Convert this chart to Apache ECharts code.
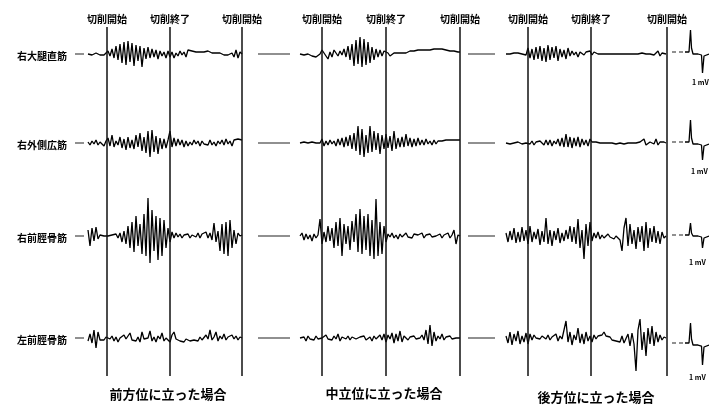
<!DOCTYPE html>
<html><head><meta charset="utf-8">
<script src="https://cdn.jsdelivr.net/npm/echarts@6/dist/echarts.min.js"></script>
<style>html,body{margin:0;padding:0;background:#fff}#c{width:709px;height:408px}</style>
</head><body><div id="c"></div>
<script>
// ---------- data ----------
const rowNames = ['右大腿直筋','右外側広筋','右前脛骨筋','左前脛骨筋'];
const panelNames = ['前方位に立った場合','中立位に立った場合','後方位に立った場合'];
const markerNames = ['切削開始','切削終了','切削開始'];
// marker positions in sample index for each panel
const markers1 = [9.5, 41, 77];
const markers2 = [11, 43, 80];
const markers3 = [11, 42.5, 80.5];
// lead-in baseline segments (sample index range)
const lead1 = [-6.5, -2];
const lead2 = [-21, -5];
const lead3 = [-19, -5.5];
const calUnit = '1 mV';

// Panel 1 (前方位)
const p1r1 = [0,1,-1,0,1,0,-1,-2,-1,1, 3,-2,5,-4,8,-6,10,-9,12,-11,13, -8,11,-12,9,-7,8,-13,6,-5,7, -4,5,-3,4,-5,3,-2,2,-4,3, -3,2,-4,1,-2,3,-1,2,-3,4, 2,3,1,2,3,2,3,2,2,3, 2,1,2,1,0,1,0,-1,0,-1, 0,1,-3,4,-4,2,0];
const p1r2 = [1,-2,2,-1,3,-2,1,2,-3,2, 5,-3,8,-4,2,-2,6,-5,4,-7,6, -5,3,-6,8,-4,10,-8,6,-10,12, -14,13,-9,7,-11,5,-6,4,-5,3, 12,-4,5,-3,4,-2,3,-4,2,-3, 1,-2,3,-1,2,-3,2,-1,1,-2, 3,-2,1,-3,2,-1,3,-2,4,-1, 2,-3,3,1,4,2,3];
const p1r3 = [6,-10,8,-5,9,-3,1,-1,0,1, 0,-1,1,0,2,-2,3,-6,5,-8,10, -12,14,-16,20,-10,12,-18,22,-20,38, -27,26,-15,20,-24,18,-20,16,-12,8, -6,4,-2,3,-1,2,-2,1,-1,2, -2,1,2,-1,3,-2,2,0,4,-2, 3,-4,13,-6,5,-15,12,-18,14,-20, 16,-12,6,-8,3,0,1];
const p1r4 = [-3,4,-5,8,-10,6,-2,0,-2,1, 0,-1,2,-3,1,-4,0,-2,3,-1,0, 5,-2,0,-3,1,-4,6,-1,-2,0, 7,-3,1,-4,2,-1,5,-3,0,2, -4,3,6,-1,0,-3,-2,-4,-1,-2, -3,-1,-2,0,-3,1,-2,0,3,-1, 8,-2,1,6,-3,2,-1,4,-2,1, 0,3,-1,2,-2,1,0];

// Panel 2 (中立位)
const p2r1 = [0,1,-1,-2,0,-1,-2,-1,-3,-1,0, 4,6,-2,-5,2,-3,4,1,-2,3, -1,5,-3,8,-6,10,-12,14,-10,17, -13,15,-11,12,-9,7,-6,5,-3,4, -2,3,4,1,-2,0,1,0,1,0, 1,2,1,2,3,2,3,3,4,3, 4,5,4,5,4,6,5,4,5,4, 5,4,4,3,3,2,3,2,2,2];
const p2r2 = [0,-2,1,-1,0,-1,1,-1,0,-1,0, 4,-3,2,-2,3,-1,2,-3,4,-2, 5,-4,6,-3,8,-6,10,-8,17,-12, 14,-14,8,-10,17,-9,12,-7,10,-11, 8,-6,9,-5,7,-8,12,-6,5,-4, 6,-4,9,-3,5,-4,4,-3,5,-2, 3,-2,4,-1,2,-2,3,-1,2,1, 2,3,3,3,3,3,3,3,3,3];
const p2r3 = [0,3,-4,2,-3,1,-5,2,-2,1,17, -8,4,-6,10,-5,8,-12,14,-10,18, -20,12,-8,10,-14,15,-6,22,-16,27, -18,20,-14,22,-20,16,-23,37,-20,14, -18,10,-6,2,-1,3,-2,1,-3,2, -1,0,3,-1,1,-2,2,0,1,-1, 3,-2,1,0,2,-1,1,0,-1,2, -2,1,0,3,-2,1,6,-8,1,0];
const p2r4 = [0,-2,1,-3,2,-1,0,-2,2,-1,1, 0,-2,3,-1,1,-2,2,-1,4,-3, 1,0,-1,2,-2,1,0,-1,0,1, -1,2,-2,0,1,-3,2,-1,0,3, -2,4,-4,3,-1,5,-5,4,-3,7, -4,2,3,-2,1,0,2,-1,1,0, 3,-2,8,-6,13,-8,6,-3,2,-1, 4,-2,1,0,2,-1,1,0,1,0];

// Panel 3 (後方位)
const p3r1 = [0,1,0,-1,1,0,1,-1,0,1,-1, 6,-4,5,-6,7,-5,8,-7,6,-8, 9,-6,7,-4,8,-7,5,-3,4,-5, 6,-2,3,-1,2,-3,2,1,-1,2, 0,3,-1,2,1,0,2,0,1,0, 0,0,-1,0,0,0,0,0,-1,0, 0,0,-1,0,1,0,0,1,0,0, 1,0,2,-1,1,3,-2,1,0,0];
const p3r2 = [0,1,-1,1,0,-1,1,0,-1,1,0, 2,-1,2,-2,1,-1,2,0,-2,3, -2,3,-3,2,-1,4,-3,5,-4,9, -4,6,-5,5,-3,6,-4,4,-2,3, -3,4,1,0,1,-1,0,1,0,-1, 0,-1,0,0,-1,-1,0,0,-1,1, 0,1,0,-1,0,-1,1,0,4,-2, 0,1,0,-1,4,-2,1,0,1,0];
const p3r3 = [3,-6,5,-4,8,-7,4,-6,9,-5,6, -8,10,-6,4,-3,7,-9,5,-6,18, -8,6,-10,5,-4,8,-7,3,-5,6, -3,10,-6,9,-8,17,-12,6,-23,12, -10,14,-5,3,-2,4,-3,1,-2,0, 2,-1,1,-3,0,2,-4,-15,8,18, -10,12,-8,6,-13,9,-6,10,-15,14, -12,8,-6,10,-7,5,-8,4,-2,0];
const p3r4 = [2,-5,6,-7,4,-3,7,-6,2,-4,5, -6,4,-2,3,0,1,-1,2,0,-1, 3,-2,1,0,4,-3,2,-1,8,17, -4,6,-7,3,-2,10,-5,4,-6,6, -3,2,-4,3,-1,2,1,3,6,2, 0,1,-2,0,-3,-1,-4,2,-5,-3, 4,-8,5,-6,-33,8,19,-12,6,-18, 10,-6,12,-8,6,-4,3,-2,1,0];

// Calibration pulses (1 mV)
const calX  = [13, 17, 18.5, 19.5, 21, 26, 29.5, 30.5, 32, 37];
const calR1 = [0, 0, 22, 4, -2, -2, -3, -21, -4, -2];
const calR2 = [0, 0, 22, 4, -2, -2, -3, -18, -4, -2];
const calR3 = [0, 0, 12, 2, -1, -1, -2, -13, -3, -1];
const calR4 = [0, 0, 20, 4, -2, -2, -3, -22, -4, -2];
const calDash = [0, 13];

// ---------- layout ----------
const FONT = '"Noto Sans CJK JP","Noto Sans CJK SC",sans-serif';
const traces = [[p1r1,p1r2,p1r3,p1r4],[p2r1,p2r2,p2r3,p2r4],[p3r1,p3r2,p3r3,p3r4]];
const markers = [markers1, markers2, markers3];
const leads = [lead1, lead2, lead3];
const cals = [calR1, calR2, calR3, calR4];
const panelLayout = [
  {left:75, width:167, min:-6.5, max:77},
  {left:258, width:202, min:-21, max:80},
  {left:468, width:200, min:-19, max:81}
];
const rowBase = [54, 143, 236, 338];
const calBase = [52, 142, 235, 343];
const HALF = 45;

const grid = [], xAxis = [], yAxis = [], series = [];
function addGrid(g, xmin, xmax, ymin, ymax) {
  grid.push(g);
  const i = grid.length - 1;
  xAxis.push({type:'value', gridIndex:i, min:xmin, max:xmax, show:false});
  yAxis.push({type:'value', gridIndex:i, min:ymin, max:ymax, show:false});
  return i;
}
const lineBase = {type:'line', showSymbol:false, symbol:'none', silent:true, animation:false};

panelLayout.forEach((pl, p) => {
  rowBase.forEach((yb, r) => {
    const gi = addGrid({left:pl.left, width:pl.width, top:yb-HALF, height:2*HALF}, pl.min, pl.max, -HALF, HALF);
    series.push(Object.assign({}, lineBase, {
      xAxisIndex:gi, yAxisIndex:gi,
      data: traces[p][r].map((v,i)=>[i,v]),
      lineStyle:{color:'#000', width:1.3}
    }));
    series.push(Object.assign({}, lineBase, {
      xAxisIndex:gi, yAxisIndex:gi,
      data: [[leads[p][0],0],[leads[p][1],0]],
      lineStyle:{color:'#222', width:1.2}
    }));
  });
  // overlay grid for the vertical event lines
  const go = addGrid({left:pl.left, width:pl.width, top:27, height:349}, pl.min, pl.max, 0, 1);
  series.push(Object.assign({}, lineBase, {
    xAxisIndex:go, yAxisIndex:go, data:[],
    markLine:{
      silent:true, animation:false, symbol:['none','none'],
      lineStyle:{color:'#111', width:1.5, type:'solid'},
      label:{show:true, position:'end', formatter:'{b}', distance:3,
             fontSize:10, fontWeight:'bold', color:'#000', fontFamily:FONT},
      data: markers[p].map((x,k)=>({xAxis:x, name:markerNames[k]}))
    }
  }));
});

// calibration pulses
calBase.forEach((yb, r) => {
  const gi = addGrid({left:672, width:37, top:yb-HALF, height:2*HALF}, 0, 37, -HALF, HALF);
  series.push(Object.assign({}, lineBase, {
    xAxisIndex:gi, yAxisIndex:gi,
    data: [[calDash[0],0],[calDash[1],0]],
    lineStyle:{color:'#222', width:1.2, type:[4,3]}
  }));
  series.push(Object.assign({}, lineBase, {
    xAxisIndex:gi, yAxisIndex:gi,
    data: calX.map((x,i)=>[x, cals[r][i]]),
    lineStyle:{color:'#000', width:1.3}
  }));
});

// texts
const graphic = [];
rowNames.forEach((t, r) => {
  graphic.push({type:'text', x:67, y:rowBase[r]+2, silent:true,
    style:{text:t, align:'right', verticalAlign:'middle', fill:'#000', font:'bold 10px '+FONT}});
});
const panelLabelPos = [[168,394],[384,393],[596,397]];
panelNames.forEach((t, p) => {
  graphic.push({type:'text', x:panelLabelPos[p][0], y:panelLabelPos[p][1], silent:true,
    style:{text:t, align:'center', verticalAlign:'middle', fill:'#000', font:'bold 13px '+FONT}});
});
const unitPos = [[692,82],[691,171],[689,262],[689,377]];
unitPos.forEach(pos => {
  graphic.push({type:'text', x:pos[0], y:pos[1], silent:true,
    style:{text:calUnit, align:'left', verticalAlign:'middle', fill:'#000', font:'bold 7px '+FONT}});
});

const chart = echarts.init(document.getElementById('c'), null, {renderer:'canvas'});
chart.setOption({
  animation:false,
  backgroundColor:'#fff',
  grid, xAxis, yAxis, series, graphic
});
</script>
</body></html>
